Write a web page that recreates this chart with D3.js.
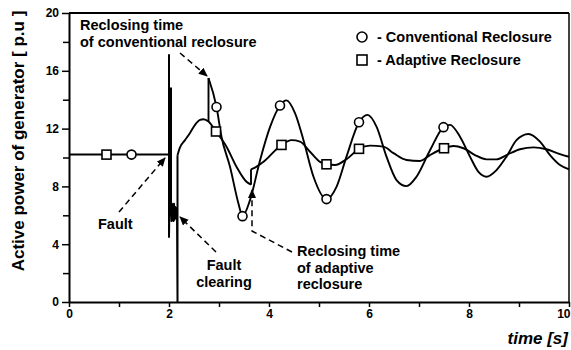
<!DOCTYPE html>
<html><head><meta charset="utf-8">
<script src="https://cdn.jsdelivr.net/npm/d3@7/dist/d3.min.js"></script>
<style>
html,body{margin:0;padding:0;background:#fff;}
svg{display:block;font-family:"Liberation Sans",Arial,sans-serif;font-weight:bold;}
</style></head>
<body><svg id="c" width="571" height="350"></svg>
<script>
// ---- data (time in s, active power in p.u.) ----
const xMajorTicks = [0, 2, 4, 6, 8, 10];
const xMinorTicks = [1, 3, 5, 7, 9];
const yMajorTicks = [0, 4, 8, 12, 16, 20];
const yMinorTicks = [2, 6, 10, 14, 18];

// pre-fault steady state + fault transient (straight segments)
const faultT = [0, 2.0, 2.0, 2.0, 2.04, 2.04, 2.05, 2.06, 2.07, 2.08, 2.09, 2.10, 2.11, 2.12, 2.13, 2.14, 2.15, 2.16, 2.17, 2.17];
const faultV = [10.2, 10.2, 17.1, 4.5, 14.8, 6.6, 5.6, 6.8, 5.7, 6.7, 5.6, 6.8, 5.7, 6.6, 5.8, 6.5, 5.9, 6.3, 0, 10.16];

// adaptive reclosure, before its reclosing (shared swing up to 2.79 s)
const adapT1 = [2.17, 2.22, 2.32, 2.42, 2.52, 2.62, 2.69, 2.79, 2.94, 3.15, 3.35, 3.55, 3.64];
const adapV1 = [10.16, 10.7, 11.2, 11.7, 12.26, 12.6, 12.65, 12.49, 11.8, 10.75, 9.36, 8.32, 8.12];
// adaptive reclosure, after reclosing
const adapT2 = [3.64, 3.72, 3.89, 4.25, 4.45, 4.62, 4.82, 5.02, 5.15, 5.32, 5.55, 5.8, 6.02, 6.29, 6.49, 6.75, 7.02, 7.22, 7.5, 7.69, 7.89, 8.12, 8.35, 8.55, 8.75, 9.02, 9.29, 9.55, 9.82, 10];
const adapV2 = [9.18, 9.3, 9.7, 10.87, 11.2, 11.1, 10.4, 9.7, 9.53, 9.48, 9.88, 10.6, 10.82, 10.75, 10.3, 9.83, 9.76, 10.17, 10.64, 10.8, 10.64, 10.17, 9.87, 9.87, 10.17, 10.57, 10.7, 10.57, 10.24, 10.05];

// conventional reclosure, after reclosing at 2.79 s
const convT = [2.79, 2.95, 3.05, 3.22, 3.39, 3.47, 3.62, 3.82, 4.02, 4.22, 4.35, 4.52, 4.69, 4.89, 5.15, 5.35, 5.55, 5.8, 5.97, 6.15, 6.35, 6.55, 6.75, 6.95, 7.22, 7.49, 7.62, 7.82, 8.02, 8.19, 8.35, 8.55, 8.75, 8.95, 9.19, 9.42, 9.62, 9.82, 10];
const convV = [15.5, 13.5, 11.44, 9.36, 6.8, 5.94, 7.05, 9.8, 12.1, 13.6, 13.95, 13.07, 11.2, 8.67, 7.12, 7.97, 10.06, 12.44, 12.95, 12.14, 10.06, 8.44, 8.02, 8.67, 10.5, 12.1, 12.26, 11.44, 10.06, 9.0, 8.67, 9.13, 10.06, 11.2, 11.63, 11.1, 10.17, 9.48, 9.18];

// markers
const convMarkT = [1.25, 2.95, 3.47, 4.22, 5.15, 5.8, 7.49];
const convMarkV = [10.2, 13.5, 5.94, 13.6, 7.12, 12.44, 12.1];
const adapMarkT = [0.75, 2.94, 4.25, 5.15, 5.8, 7.5];
const adapMarkV = [10.2, 11.8, 10.87, 9.53, 10.6, 10.64];

const legendLabels = ["- Conventional Reclosure", "- Adaptive Reclosure"];
const yTitle = "Active power of generator [ p.u ]";
const xTitle = "time [s]";

// ---- drawing ----
const svg = d3.select("#c");
const x = d3.scaleLinear().domain([0, 10]).range([69, 569]);
const y = d3.scaleLinear().domain([0, 20]).range([302, 13]);
const zip = (T, V) => T.map((t, i) => [t, V[i]]);

const defs = svg.append("defs");
defs.append("marker").attr("id", "ah").attr("viewBox", "0 0 10 10")
  .attr("refX", 9).attr("refY", 5).attr("markerWidth", 9).attr("markerHeight", 9)
  .attr("markerUnits", "userSpaceOnUse").attr("orient", "auto")
  .append("path").attr("d", "M0,0.5 L10,5 L0,9.5 Z").attr("fill", "#000");

// axes
const xAxis = svg.append("g").attr("transform", "translate(0,302)")
  .call(d3.axisBottom(x).tickValues(xMajorTicks).tickSize(5).tickSizeOuter(0).tickPadding(2).tickFormat(d3.format("d")));
xAxis.selectAll(".tick text").filter(d => d === 10).attr("text-anchor", "end").attr("dx", 1);
svg.append("g").attr("transform", "translate(0,302)")
  .call(d3.axisBottom(x).tickValues(xMinorTicks).tickSize(5).tickSizeOuter(0).tickFormat(""))
  .select(".domain").remove();
const yAxis = svg.append("g").attr("transform", "translate(69,0)")
  .call(d3.axisLeft(y).tickValues(yMajorTicks).tickSize(7).tickSizeOuter(0).tickPadding(3).tickFormat(d3.format("d")));
svg.append("g").attr("transform", "translate(69,0)")
  .call(d3.axisLeft(y).tickValues(yMinorTicks).tickSize(6).tickSizeOuter(0).tickFormat(""))
  .select(".domain").remove();
svg.selectAll(".domain").attr("stroke-width", 2);
svg.selectAll(".tick line").attr("stroke-width", 1.5);
svg.selectAll(".tick text").attr("font-size", 12).attr("font-weight", "bold")
  .attr("font-family", "'Liberation Sans',Arial,sans-serif").attr("fill", "#000");

// frame top & right
svg.append("line").attr("x1", x(0)).attr("x2", x(10)).attr("y1", y(20)).attr("y2", y(20))
  .attr("stroke", "#000").attr("stroke-width", 2);
svg.append("line").attr("x1", x(10)).attr("x2", x(10)).attr("y1", y(20)).attr("y2", y(0))
  .attr("stroke", "#000").attr("stroke-width", 1.5);

// curves
const lin = d3.line().x(d => x(d[0])).y(d => y(d[1]));
const smooth = d3.line().x(d => x(d[0])).y(d => y(d[1])).curve(d3.curveMonotoneX);
const g = svg.append("g").attr("fill", "none").attr("stroke", "#000").attr("stroke-width", 1.9)
  .attr("stroke-linejoin", "round");
g.append("path").attr("d", lin(zip(faultT, faultV))).attr("stroke-width", 2);
g.append("path").attr("d", smooth(zip(adapT1, adapV1)));
g.append("path").attr("d", lin([[adapT1[adapT1.length - 1], adapV1[adapV1.length - 1]], [adapT2[0], adapV2[0]]]));
g.append("path").attr("d", smooth(zip(adapT2, adapV2)));
g.append("path").attr("d", lin([[convT[0], adapV1[7]], [convT[0], convV[0]]]));
g.append("path").attr("d", smooth(zip(convT, convV)));

// markers
const mk = svg.append("g").attr("fill", "#fff").attr("stroke", "#000").attr("stroke-width", 1.6);
mk.selectAll("circle").data(zip(convMarkT, convMarkV)).join("circle")
  .attr("cx", d => x(d[0])).attr("cy", d => y(d[1])).attr("r", 4.5);
mk.selectAll("rect").data(zip(adapMarkT, adapMarkV)).join("rect")
  .attr("x", d => x(d[0]) - 4.5).attr("y", d => y(d[1]) - 4.5).attr("width", 9).attr("height", 9);

// legend
const lg = svg.append("g");
lg.append("circle").attr("cx", 362).attr("cy", 37).attr("r", 5).attr("fill", "#fff").attr("stroke", "#000").attr("stroke-width", 1.6);
lg.append("rect").attr("x", 357).attr("y", 55).attr("width", 10).attr("height", 10).attr("fill", "#fff").attr("stroke", "#000").attr("stroke-width", 1.6);
lg.selectAll("text").data(legendLabels).join("text")
  .attr("x", 377).attr("y", (d, i) => 42 + i * 23).attr("font-size", 14.5).text(d => d);

// annotations
function label(lines, x0, y0, dy, anchor) {
  const t = svg.append("text").attr("font-size", 14.5).attr("text-anchor", anchor || "start");
  lines.forEach((s, i) => t.append("tspan").attr("x", x0).attr("y", y0 + i * dy).text(s));
}
label(["Reclosing time", "of conventional reclosure"], 80, 30, 17);
label(["Fault"], 98, 229, 0);
label(["Fault", "clearing"], 224, 270, 17, "middle");
label(["Reclosing time", "of adaptive", "reclosure"], 297, 256, 16.5);

const dash = svg.append("g").attr("fill", "none").attr("stroke", "#000").attr("stroke-width", 1.5)
  .attr("stroke-dasharray", "6,4");
dash.append("path").attr("d", "M180,53 L207,76").attr("marker-end", "url(#ah)");
dash.append("path").attr("d", "M119,212 L165,158").attr("marker-end", "url(#ah)");
dash.append("path").attr("d", "M216,252 L180,217").attr("marker-end", "url(#ah)");
dash.append("path").attr("d", "M292,252 L252,231 L252,190").attr("marker-end", "url(#ah)");

// titles
svg.append("text").attr("transform", "translate(24,141) rotate(-90)").attr("text-anchor", "middle")
  .attr("font-size", 17).text(yTitle);
svg.append("text").attr("x", 568).attr("y", 344).attr("text-anchor", "end")
  .attr("font-size", 17).attr("font-style", "italic").text(xTitle);
</script></body></html>
